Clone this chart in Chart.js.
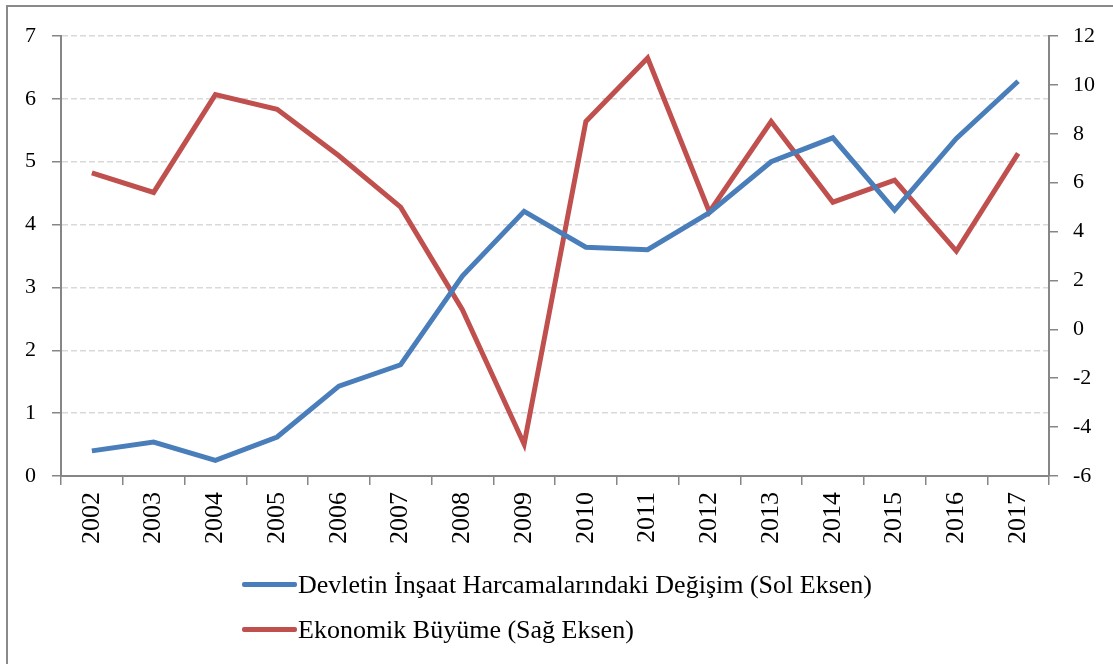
<!DOCTYPE html>
<html lang="tr">
<head>
<meta charset="utf-8">
<title>İnşaat Harcamaları ve Ekonomik Büyüme</title>
<script src="https://cdn.jsdelivr.net/npm/chart.js@4/dist/chart.umd.min.js"></script>
<style>
  html, body { margin: 0; padding: 0; background: #fff; }
  #sahne { position: relative; width: 1113px; height: 664px; overflow: hidden; }
  #cerceve { position: absolute; left: 6px; top: 5px; width: 1120px; height: 680px; border-left: 2px solid #8a8a8a; border-top: 2px solid #8a8a8a; box-sizing: border-box; }
  #grafik { position: absolute; left: 0; top: 0; }
  #lejant { position: absolute; left: 242px; top: 562px; font-family: "Liberation Serif", serif; font-size: 26px; color: #000; }
  .lejant-satir { display: flex; align-items: center; height: 45px; white-space: nowrap; }
  .lejant-cizgi { width: 55px; height: 5px; border-radius: 2px; margin-right: 1px; }
</style>
</head>
<body>
<div id="sahne">
  <div id="cerceve"></div>
  <canvas id="grafik" width="1113" height="580"></canvas>
  <div id="lejant"></div>
</div>
<script>
// Veriler
const yillar = ["2002", "2003", "2004", "2005", "2006", "2007", "2008", "2009",
  "2010", "2011", "2012", "2013", "2014", "2015", "2016", "2017"];
const insaatDegisim = [0.40, 0.54, 0.25, 0.62, 1.43, 1.77, 3.18, 4.21,
  3.64, 3.60, 4.19, 5.00, 5.38, 4.23, 5.37, 6.28];
const ekonomikBuyume = [6.4, 5.6, 9.6, 9.0, 7.1, 5.0, 0.8, -4.7,
  8.5, 11.1, 4.8, 8.5, 5.2, 6.1, 3.2, 7.2];
const seriAdlari = ["Devletin İnşaat Harcamalarındaki Değişim (Sol Eksen)", "Ekonomik Büyüme (Sağ Eksen)"];
const seriRenkleri = ["#4a7ebb", "#c0504d"];

const yaziTipi = { family: "'Liberation Serif', serif", size: 22 };
const eksenRengi = "#868686";

const grafik = new Chart(document.getElementById("grafik"), {
  type: "line",
  data: {
    labels: yillar,
    datasets: [
      {
        label: seriAdlari[0],
        data: insaatDegisim,
        yAxisID: "ySol",
        borderColor: seriRenkleri[0],
        borderWidth: 5,
        pointRadius: 0,
        tension: 0
      },
      {
        label: seriAdlari[1],
        data: ekonomikBuyume,
        yAxisID: "ySag",
        borderColor: seriRenkleri[1],
        borderWidth: 5,
        pointRadius: 0,
        tension: 0
      }
    ]
  },
  options: {
    responsive: false,
    animation: false,
    layout: { padding: { top: 36, left: 0, right: 0, bottom: 0 } },
    plugins: {
      legend: { display: false },
      tooltip: { enabled: false }
    },
    scales: {
      x: {
        offset: true,
        grid: { display: true, drawOnChartArea: false, offset: true, tickLength: 9, tickColor: eksenRengi, lineWidth: 1.5 },
        border: { color: eksenRengi, width: 2 },
        ticks: { color: "#000", font: { family: "'Liberation Serif', serif", size: 26 }, minRotation: 90, maxRotation: 90, padding: 7, autoSkip: false },
        afterFit: s => { s.height = 104; }
      },
      ySol: {
        position: "left",
        min: 0,
        max: 7,
        ticks: { stepSize: 1, color: "#000", font: yaziTipi, padding: 16 },
        grid: { color: "#d9d9d9", lineWidth: 1.5, tickColor: eksenRengi, tickLength: 9 },
        border: { color: eksenRengi, width: 2, dash: [6, 3] },
        afterFit: s => { s.width = 61; }
      },
      ySag: {
        position: "right",
        min: -6,
        max: 12,
        ticks: { stepSize: 2, color: "#000", font: yaziTipi, padding: 15 },
        grid: { drawOnChartArea: false, tickColor: eksenRengi, tickLength: 9, lineWidth: 1.5 },
        border: { color: eksenRengi, width: 2 },
        afterFit: s => { s.width = 64; }
      }
    }
  }
});

// Lejant (dikey, sola hizalı)
const lejant = document.getElementById("lejant");
grafik.data.datasets.forEach(ds => {
  const satir = document.createElement("div");
  satir.className = "lejant-satir";
  const cizgi = document.createElement("span");
  cizgi.className = "lejant-cizgi";
  cizgi.style.background = ds.borderColor;
  const yazi = document.createElement("span");
  yazi.textContent = ds.label;
  satir.appendChild(cizgi);
  satir.appendChild(yazi);
  lejant.appendChild(satir);
});
</script>
</body>
</html>
